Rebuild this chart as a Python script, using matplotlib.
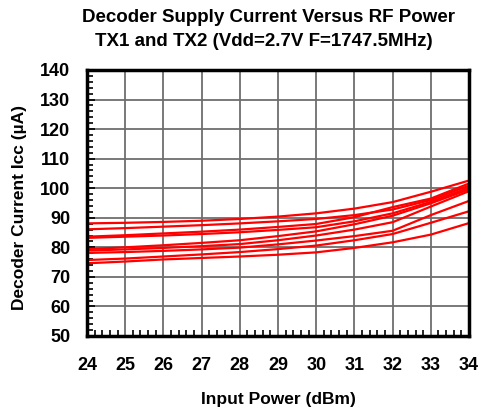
import matplotlib
matplotlib.use("Agg")
import matplotlib.pyplot as plt
from matplotlib.ticker import MultipleLocator

plt.rcParams['font.family'] = ['Liberation Sans', 'DejaVu Sans']

power_dbm = [24, 25, 26, 27, 28, 29, 30, 31, 32, 33, 34]

curve_1 = [88.1, 88.3, 88.6, 89.0, 89.6, 90.4, 91.5, 93.1, 95.3, 98.8, 102.6]
curve_2 = [86.1, 86.5, 87.0, 87.5, 88.1, 88.8, 89.6, 90.9, 92.8, 96.0, 100.9]
curve_3 = [83.6, 84.1, 84.7, 85.3, 86.0, 86.9, 87.9, 90.2, 93.6, 96.5, 101.6]
curve_4 = [83.2, 83.6, 84.0, 84.5, 85.1, 85.9, 86.8, 88.8, 91.5, 95.4, 100.2]
curve_5 = [79.4, 80.0, 80.7, 81.5, 82.4, 83.8, 85.4, 87.8, 90.7, 94.9, 99.6]
curve_6 = [78.9, 79.3, 79.8, 80.4, 81.1, 82.4, 84.0, 86.0, 88.5, 93.8, 99.0]
curve_7 = [78.1, 78.4, 78.8, 79.3, 79.9, 81.0, 82.3, 83.8, 85.6, 90.9, 95.7]
curve_8 = [75.7, 76.2, 76.9, 77.6, 78.4, 79.4, 80.6, 82.4, 84.5, 88.3, 92.2]
curve_9 = [74.6, 75.2, 75.9, 76.4, 76.9, 77.5, 78.3, 79.8, 81.7, 84.3, 88.2]

curves = [curve_1, curve_2, curve_3, curve_4, curve_5, curve_6, curve_7, curve_8, curve_9]

title_line1 = "Decoder Supply Current Versus RF Power"
title_line2 = "TX1 and TX2 (Vdd=2.7V F=1747.5MHz)"
x_label = "Input Power (dBm)"
y_label = "Decoder Current Icc (\u00b5A)"

fig = plt.figure(figsize=(4.85, 4.16), dpi=100)
ax = fig.add_axes([87/485, 1-336/416, (469-87)/485, (336-70)/416])

for c in curves:
    ax.plot(power_dbm, c, color='#FF0000', linewidth=1.6, solid_joinstyle='round')

ax.set_xlim(24, 34)
ax.set_ylim(50, 140)
ax.xaxis.set_major_locator(MultipleLocator(1))
ax.xaxis.set_minor_locator(MultipleLocator(0.2))
ax.yaxis.set_major_locator(MultipleLocator(10))
ax.yaxis.set_minor_locator(MultipleLocator(2))
ax.grid(True, which='major', color='#6e6e6e', linewidth=1.3)
ax.set_axisbelow(True)

ax.tick_params(axis='x', which='major', direction='in', length=0, labelsize=13, pad=15)
ax.tick_params(axis='both', which='minor', direction='in', length=4, width=1.2)
ax.tick_params(axis='x', which='minor', top=False)
ax.tick_params(axis='y', which='minor', right=False)
ax.tick_params(axis='y', which='major', direction='in', left=True, length=6, width=1.2,
               labelsize=13, pad=12)
for lab in ax.get_xticklabels() + ax.get_yticklabels():
    lab.set_fontweight('bold')

for s in ax.spines.values():
    s.set_linewidth(2.5)
    s.set_color('black')

ax.set_xlabel(x_label, fontsize=12.5, fontweight='bold', labelpad=13)
fig.text(20/485, 1-208/416, y_label, rotation=90, fontsize=12.5, fontweight='bold',
         ha='center', va='center')

fig.text(268/485, 1-17/416, title_line1, fontsize=13.5, fontweight='bold', ha='center', va='center')
fig.text(264/485, 1-42/416, title_line2, fontsize=13.5, fontweight='bold', ha='center', va='center')

fig.savefig("out.png", dpi=100)
